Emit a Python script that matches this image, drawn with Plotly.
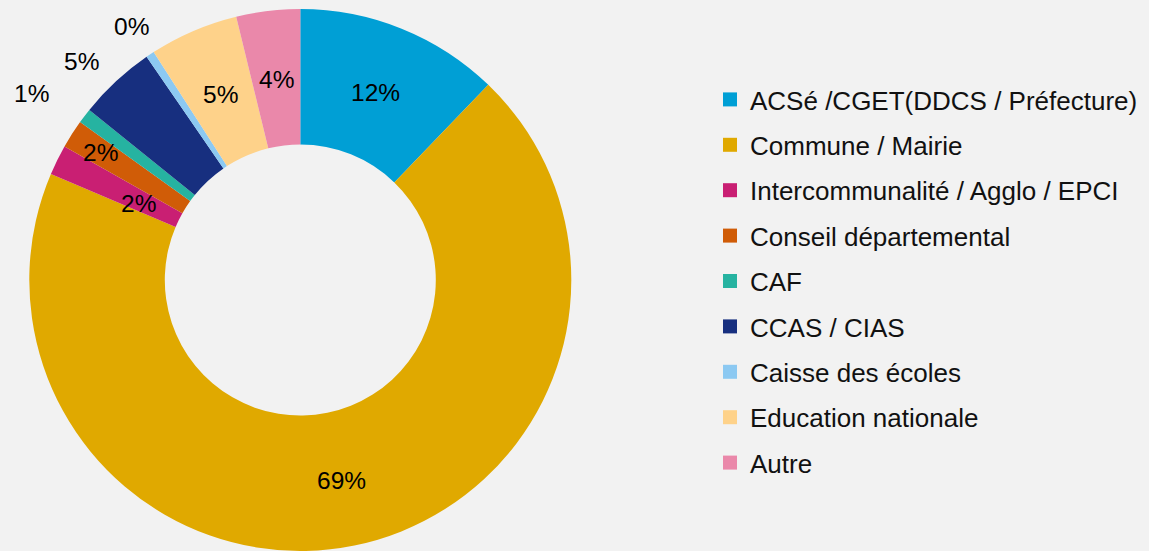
import math
import plotly.graph_objects as go

categories = [
    "ACSé /CGET(DDCS / Préfecture)",
    "Commune / Mairie",
    "Intercommunalité / Agglo / EPCI",
    "Conseil départemental",
    "CAF",
    "CCAS / CIAS",
    "Caisse des écoles",
    "Education nationale",
    "Autre",
]
shares = [12.2, 69.2, 1.8, 1.7, 0.9, 4.6, 0.5, 5.3, 3.8]
colors = ["#009FD5", "#E0A900", "#C91F73", "#D05C07", "#26B3A1",
          "#172F7F", "#8CC9F2", "#FED28A", "#EA88AA"]
# label placement: distance from centre (fraction of outer radius) and angular nudge (deg)
label_radius = [0.745, 0.755, 0.66, 0.875, 1.207, 1.143, 1.123, 0.745, 0.745]
label_shift = [0.0, 0.0, -1.1, 0.0, -2.4, -2.2, 0.0, 0.0, 0.0]

W, H = 1149, 551
MT = 9
plot_h = H - MT
R = plot_h / 2.0
cx_px = 300.3
x0 = (cx_px - R) / W
x1 = (cx_px + R) / W
FONT = "Liberation Sans, Arial, sans-serif"

fig = go.Figure()
fig.add_trace(go.Pie(
    labels=categories,
    values=shares,
    sort=False,
    direction="clockwise",
    rotation=0,
    hole=0.5,
    marker=dict(colors=colors, line=dict(width=0)),
    textinfo="none",
    hoverinfo="label+percent",
    showlegend=False,
    domain=dict(x=[x0, x1], y=[0, 1]),
))

# legend entries
for name, c in zip(categories, colors):
    fig.add_trace(go.Scatter(
        x=[None], y=[None], mode="markers", name=name, legendgroup=name,
        marker=dict(symbol="square", size=14, color=c),
        hoverinfo="skip",
    ))

# percentage labels placed at each slice's mid-angle
total = sum(shares)
cum = 0.0
for v, f, s in zip(shares, label_radius, label_shift):
    mid = (cum + v / 2.0) / total * 2 * math.pi + math.radians(s)
    cum += v
    xp = (cx_px + R * f * math.sin(mid)) / W
    yp = 0.5 + R * f * math.cos(mid) / plot_h
    fig.add_annotation(
        x=xp, y=yp, xref="paper", yref="paper",
        text=f"{round(v * 100 / total):.0f}%",
        showarrow=False, xanchor="center", yanchor="middle",
        font=dict(family=FONT, size=24.5, color="#000000"),
    )

fig.update_layout(
    width=W, height=H,
    margin=dict(l=0, r=0, t=MT, b=0, pad=0),
    paper_bgcolor="#F2F2F2",
    plot_bgcolor="#F2F2F2",
    font=dict(family=FONT, size=26, color="#111111"),
    xaxis=dict(visible=False),
    yaxis=dict(visible=False),
    showlegend=True,
    legend=dict(
        x=710 / W, xanchor="left",
        y=1 - (76 - MT) / plot_h, yanchor="top",
        bgcolor="rgba(0,0,0,0)",
        tracegroupgap=8.6,
        font=dict(family=FONT, size=26, color="#111111"),
    ),
)

fig.write_html(
    "out.html",
    config={"displayModeBar": False},
    post_script="document.body.style.margin='0';document.body.style.overflow='hidden';",
)
